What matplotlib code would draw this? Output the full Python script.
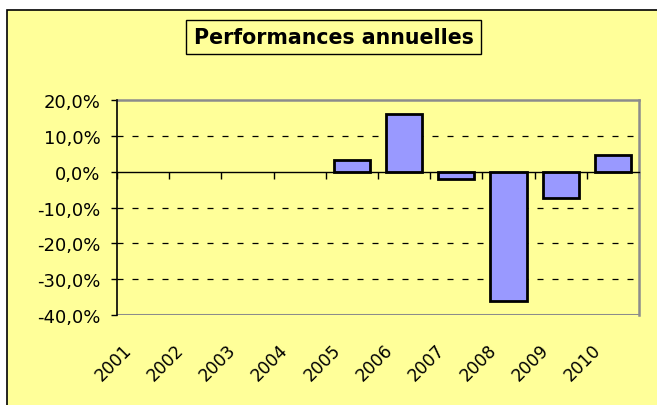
import numpy as np
import matplotlib.pyplot as plt
from matplotlib.patches import Rectangle
from matplotlib.ticker import FuncFormatter, FixedLocator
import matplotlib.transforms as mtransforms

years = ["2001", "2002", "2003", "2004", "2005", "2006", "2007", "2008", "2009", "2010"]
# yearly performance, fraction (empty years have no value)
perf = [np.nan, np.nan, np.nan, np.nan, 0.033, 0.160, -0.020, -0.361, -0.073, 0.047]
yticks = [-0.4, -0.3, -0.2, -0.1, 0.0, 0.1, 0.2]
grid_levels = [-0.3, -0.2, -0.1, 0.1]

yellow = "#FFFF99"
bar_color = "#9999FF"

fig = plt.figure(figsize=(6.57, 4.06), dpi=100)
fig.patch.set_facecolor("white")

# chart area frame (runs off right and bottom edges)
frame = Rectangle((7 / 657, -0.05), 1.0, 1 - 11 / 406 + 0.05, transform=fig.transFigure,
                  facecolor=yellow, edgecolor="black", linewidth=1.2, zorder=-10)
fig.patches.append(frame)

ax = fig.add_axes([117 / 657, 1 - 316 / 406, (639 - 117) / 657, (316 - 101) / 406])
ax.set_zorder(1)
ax.set_facecolor(yellow)

x = np.arange(len(years))
ax.bar(x, perf, width=0.69, color=bar_color, edgecolor="black", linewidth=2, zorder=3)

ax.set_xlim(-0.5, len(years) - 0.5)
ax.set_ylim(-0.4, 0.2)

for g in grid_levels:
    ax.axhline(g, color="black", linewidth=0.9, linestyle=(0, (4.8, 7.2)), zorder=1)

# plot area border: grey on top, right and bottom
for s in ["top", "right"]:
    ax.spines[s].set_color("#8c8c8c")
    ax.spines[s].set_linewidth(1.8)
ax.spines["left"].set_color("black")
ax.spines["left"].set_linewidth(1.2)
ax.spines["left"].set_zorder(4)

# category axis crossing at zero, ticks between categories
ax.spines["bottom"].set_position(("data", 0))
ax.spines["bottom"].set_color("black")
ax.spines["bottom"].set_linewidth(1.0)
ax.spines["bottom"].set_zorder(4)
ax.xaxis.set_major_locator(FixedLocator(np.arange(len(years) + 1) - 0.5))
ax.tick_params(axis="x", direction="out", length=5, width=1, labelbottom=False)
ax.axhline(-0.4, color="#8c8c8c", linewidth=2.2, zorder=2)

ax.set_yticks(yticks)
ax.yaxis.set_major_formatter(FuncFormatter(lambda v, p: f"{v * 100:.1f}%".replace(".", ",")))
ax.tick_params(axis="y", direction="out", length=4.3, width=1, labelsize=13, pad=7.5)

# rotated year labels below plot area
offset = mtransforms.ScaledTranslation(-8 / 100, -25 / 100, fig.dpi_scale_trans)
trans = mtransforms.blended_transform_factory(ax.transData, ax.transAxes) + offset
for xi, lab in zip(x, years):
    ax.text(xi, 0, lab, transform=trans, rotation=45, ha="right", va="top", fontsize=12.3)

fig.text(333.5 / 657, 1 - 38 / 406, "Performances annuelles", ha="center", va="center",
         fontsize=14.8, fontweight="bold",
         bbox=dict(boxstyle="square,pad=0.35", facecolor=yellow, edgecolor="black", linewidth=1))

fig.savefig("out.png", dpi=100, facecolor=fig.get_facecolor())
